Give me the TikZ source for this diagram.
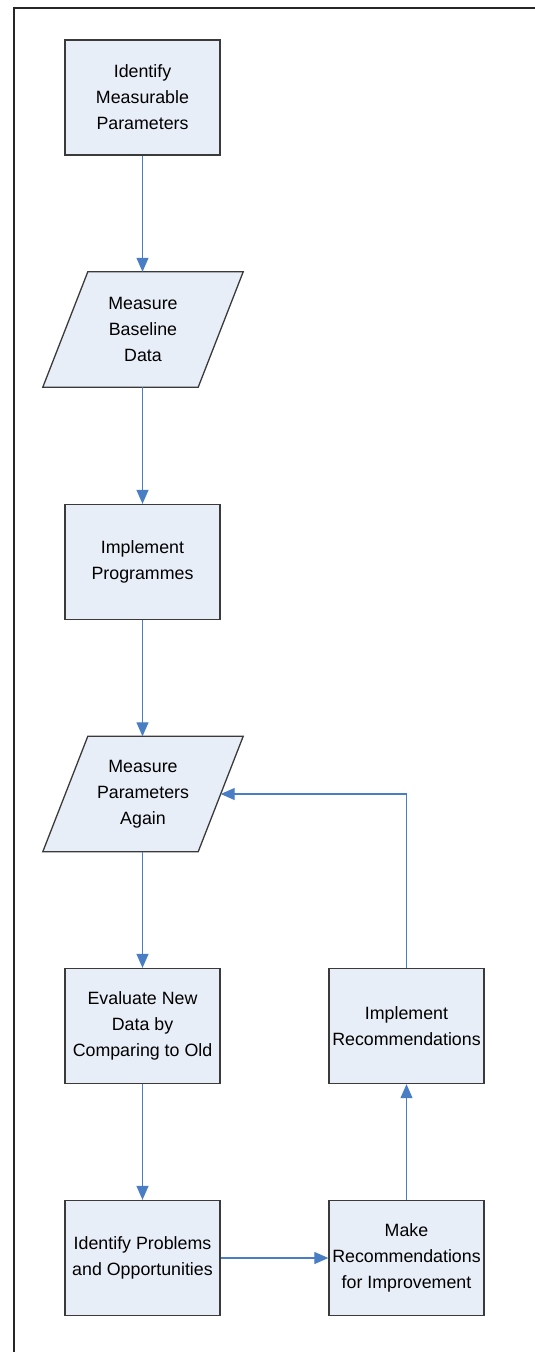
\documentclass[tikz,border=0pt]{standalone}
\usepackage{fontspec}
\setmainfont{Liberation Sans}
\usetikzlibrary{arrows.meta,calc}
\definecolor{boxfill}{HTML}{E8EEF7}
\definecolor{boxline}{HTML}{3A3A3A}
\definecolor{arrowc}{HTML}{4A7EC4}
\begin{document}
\begin{tikzpicture}[x=1pt,y=-1pt,
  procbox/.style={draw=boxline,fill=boxfill,line width=1.3pt,minimum width=155pt,minimum height=115pt,
    inner sep=0pt,align=center,font=\fontsize{17.8}{26}\selectfont},
  iobox/.style={minimum width=155pt,minimum height=115pt,inner sep=0pt,align=center,
    font=\fontsize{17.8}{26}\selectfont},
  flow/.style={draw=arrowc,line width=1.1pt,-{Triangle[width=12pt,length=14pt]}}]
\useasboundingbox (0,0) rectangle (535,1352);
% frame
\begin{scope}
\clip (0,0) rectangle (535,1352);
\draw[line width=2pt,black!85] (14,1360) -- (14,8) -- (545,8);
\end{scope}
% parallelogram shapes (backgrounds)
\node[iobox] (p1) at (143,329.5) {};
\node[iobox] (p2) at (143,794) {};
\foreach \p in {p1,p2}{
  \draw[draw=boxline,fill=boxfill,line width=1.3pt]
    ($(\p.north west)+(22.5,0)$) -- ($(\p.north east)+(22.5,0)$) --
    ($(\p.south east)+(-22.5,0)$) -- ($(\p.south west)+(-22.5,0)$) -- cycle;
}
\node[iobox] at (p1) {Measure\\Baseline\\Data};
\node[iobox] at (p2) {Measure\\Parameters\\Again};
% boxes
\node[procbox] (b1) at (142.5,97.5) {Identify\\Measurable\\Parameters};
\node[procbox] (b2) at (142.5,562) {Implement\\Programmes};
\node[procbox] (b3) at (142.5,1026) {Evaluate New\\Data by\\Comparing to Old};
\node[procbox] (b4) at (142.5,1258) {Identify Problems\\and Opportunities};
\node[procbox] (b5) at (406.5,1258) {Make\\Recommendations\\for Improvement};
\node[procbox] (b6) at (406.5,1026) {Implement\\Recommendations};
% connectors
\draw[flow] (b1.south) -- (b1.south |- p1.north);
\draw[flow] (b1.south |- p1.south) -- (b2.north);
\draw[flow] (b2.south) -- (b2.south |- p2.north);
\draw[flow] (b2.south |- p2.south) -- (b3.north);
\draw[flow] (b3.south) -- (b4.north);
\draw[flow] (b4.east) -- (b5.west);
\draw[flow] (b5.north) -- (b6.south);
\draw[flow] (b6.north) |- (p2.east);
\end{tikzpicture}
\end{document}
